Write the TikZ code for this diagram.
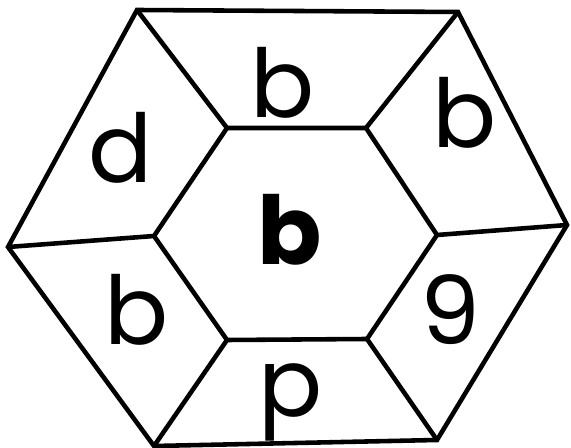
\documentclass[tikz,border=0pt]{standalone}
\usepackage{fontspec}
\setmainfont{Poppins}
\usetikzlibrary{positioning}
\tikzset{
  face edge/.style={line width=2.6pt},
  face label/.style={font=\fontsize{54}{60}\selectfont,inner sep=0pt,anchor=base},
  centre label/.style={font=\fontsize{54}{60}\selectfont\bfseries,inner sep=0pt,anchor=base}
}

\begin{document}
\begin{tikzpicture}[x=0.02cm,y=-0.02cm,line join=miter]
  \useasboundingbox (0,0) rectangle (571,448);
  % Outer ring of the hexagon.
  \coordinate (o1) at (137, 10);
  \coordinate (o2) at (458, 12);
  \coordinate (o3) at (567,225);
  \coordinate (o4) at (437,440);
  \coordinate (o5) at (154,446);
  \coordinate (o6) at (  8,247);

  % Inner hexagon.
  \coordinate (i1) at (227,128);
  \coordinate (i2) at (366,128);
  \coordinate (i3) at (437,235);
  \coordinate (i4) at (367,339);
  \coordinate (i5) at (227,340);
  \coordinate (i6) at (154,236);

  \draw[face edge] (o1)--(o2)--(o3)--(o4)--(o5)--(o6)--cycle;
  \draw[face edge] (i1)--(i2)--(i3)--(i4)--(i5)--(i6)--cycle;
  \foreach \k in {1,...,6} {\draw[face edge] (o\k)--(i\k);}

  \node[face label] (top)   at (283,118) {b};
  \node[face label] (upl)   at (121,183) {d};
  \node[face label] (upr)   at (465,148) {b};
  \node[face label] (lowl)  at (137,345) {b};
  \node[face label] (lowr)  at (450,345) {9};
  \node[face label] (bot)   at (291,417) {p};
  \node[centre label] (mid) at (290,265) {b};
\end{tikzpicture}
\end{document}
